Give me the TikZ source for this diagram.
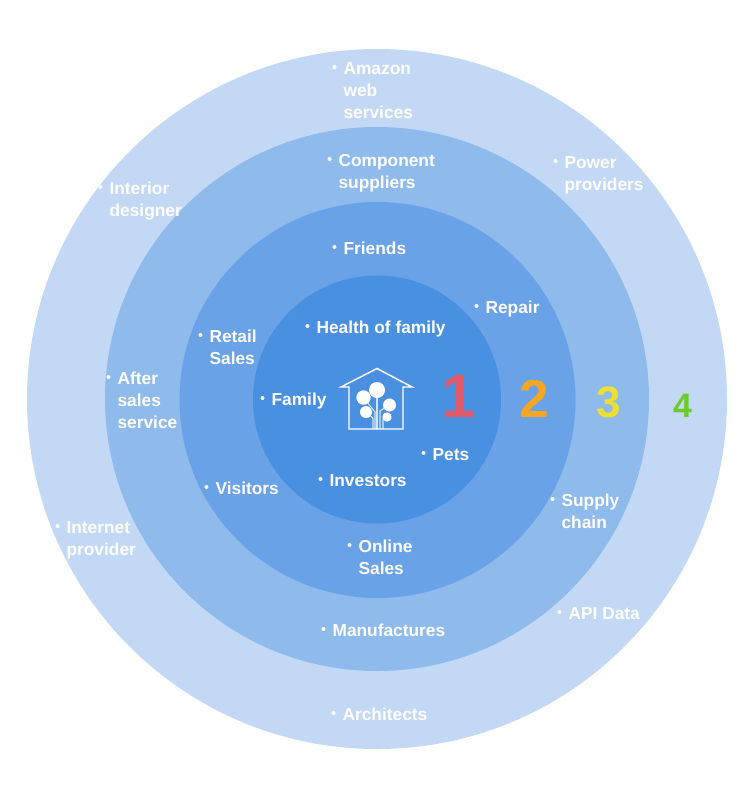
\documentclass[tikz,border=0pt]{standalone}
\usepackage{fontspec}
\setmainfont{Liberation Sans}
\definecolor{ringA}{HTML}{C3D8F5}
\definecolor{ringB}{HTML}{8FBAEC}
\definecolor{ringC}{HTML}{69A2E6}
\definecolor{ringD}{HTML}{4A90E0}
\definecolor{numA}{HTML}{E05A6A}
\definecolor{numB}{HTML}{F5A623}
\definecolor{numC}{HTML}{EFE030}
\definecolor{numD}{HTML}{6CCB28}
\tikzset{
  lab/.style={anchor=north west,inner sep=0pt,align=left,text=white,
    font=\fontsize{13}{16.5}\selectfont\bfseries},
  num/.style={anchor=base,inner sep=0pt,font=\bfseries},
  icon/.style={draw=white,line width=1.1pt,line join=miter},
  stem/.style={draw=white!75!ringD,line width=0.8pt}
}
\newcommand{\lbl}[4]{%
  \fill[white] (#2-9.5,#3-7) circle (2);
  \node[lab] (#1) at (#2-0.7,#3-16) {\rule{0pt}{12pt}#4};
}
\begin{document}
\begin{tikzpicture}[x=0.75pt,y=-0.75pt]
\useasboundingbox (0,0) rectangle (753,800);
\fill[white] (0,0) rectangle (753,800);
\fill[ringA] (377,399) circle (350);
\fill[ringB] (377,399) circle (272);
\fill[ringC] (377.5,400) circle (198);
\fill[ringD] (377,399.5) circle (124);
% house icon
\draw[stem] (377,398) -- (377,429);
\draw[stem] (375,429) -- (375,412) -- (363,397);
\draw[stem] (373,429) -- (373,418) -- (366,412);
\draw[stem] (380,429) -- (380,411) -- (389,405);
\draw[stem] (383,429) -- (383,419) -- (387,417);
\draw[icon] (349,387) -- (341,387) -- (377,368.5) -- (412,387) -- (403,387) -- (403,429) -- (349,429) -- cycle;
\fill[white] (377,390) circle (8);
\fill[white] (363.5,397.5) circle (7.2);
\fill[white] (389.5,405) circle (6.5);
\fill[white] (366,412) circle (6);
\fill[white] (387,417) circle (4.7);
% labels
\lbl{amazon}{344}{74}{Amazon\\web\\services}
\lbl{component}{339}{166}{Component\\suppliers}
\lbl{power}{565}{168}{Power\\providers}
\lbl{interior}{110}{194}{Interior\\designer}
\lbl{friends}{344}{254}{Friends}
\lbl{repair}{486}{313}{Repair}
\lbl{health}{317}{333}{Health of family}
\lbl{retail}{210}{342}{Retail\\Sales}
\lbl{after}{118}{384}{After\\sales\\service}
\lbl{family}{272}{405}{Family}
\lbl{pets}{433}{460}{Pets}
\lbl{investors}{330}{486}{Investors}
\lbl{visitors}{216}{494}{Visitors}
\lbl{supply}{562}{506}{Supply\\chain}
\lbl{internet}{67}{533}{Internet\\provider}
\lbl{online}{359}{552}{Online\\Sales}
\lbl{api}{569}{619}{API Data}
\lbl{manuf}{333}{636}{Manufactures}
\lbl{arch}{343}{720}{Architects}
% numbers
\node[num,text=numA,font=\fontsize{46}{46}\selectfont\bfseries] (n1) at (458.5,417) {1};
\node[num,text=numB,font=\fontsize{40}{40}\selectfont\bfseries] (n2) at (534,417) {2};
\node[num,text=numC,font=\fontsize{33}{33}\selectfont\bfseries] (n3) at (608.5,417) {3};
\node[num,text=numD,font=\fontsize{25.5}{25.5}\selectfont\bfseries] (n4) at (682.5,417) {4};
\end{tikzpicture}
\end{document}
